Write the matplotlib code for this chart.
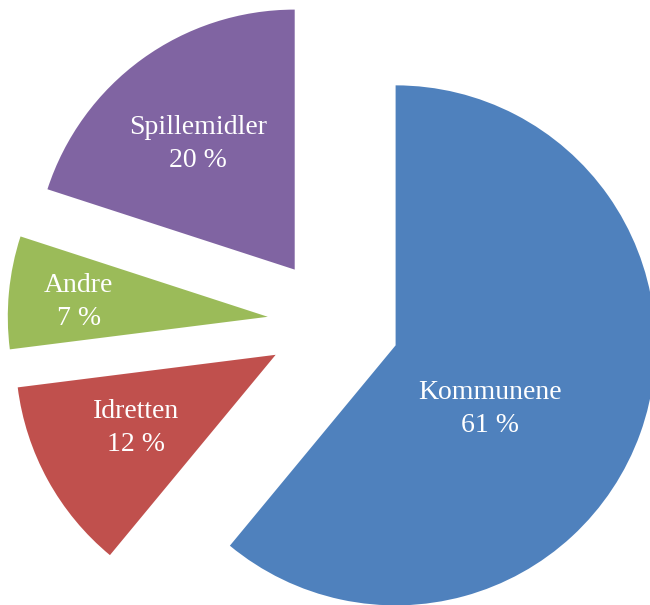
import numpy as np
import matplotlib
matplotlib.use("Agg")
import matplotlib.pyplot as plt

# data
categories = ["Kommunene", "Idretten", "Andre", "Spillemidler"]
shares = [61, 12, 7, 20]
colors = ["#4F81BD", "#C0504D", "#9BBB59", "#8064A2"]

# label placement (fraction of radius from slice apex, angle tweak in degrees)
label_dist = [0.43, 0.60, 0.73, 0.62]
label_turn = [-13, -2, 0, 1]

fig = plt.figure(figsize=(6.5, 6.05), dpi=100)
ax = fig.add_axes([0, 0, 1, 1])

radius = 260
center = (333.5, 282)
gap = 66  # explode distance in data units (pixels)

wedges, _ = ax.pie(shares, colors=colors, startangle=90, counterclock=False,
                   radius=radius, center=center, explode=[gap] * 4,
                   wedgeprops=dict(linewidth=0), frame=True)
ax.set_xlim(0, 650)
ax.set_ylim(0, 605)
ax.set_aspect("equal")
ax.axis("off")

for w, name, val, d, t in zip(wedges, categories, shares, label_dist, label_turn):
    mid = np.radians((w.theta1 + w.theta2) / 2 + t)
    cx, cy = w.center
    x = cx + d * radius * np.cos(mid)
    y = cy + d * radius * np.sin(mid) - 3
    ax.text(x, y, f"{name}\n{val} %", ha="center", va="center", color="white",
            fontsize=20, family="Liberation Serif", linespacing=1.45)

fig.savefig("out.png", dpi=100)
